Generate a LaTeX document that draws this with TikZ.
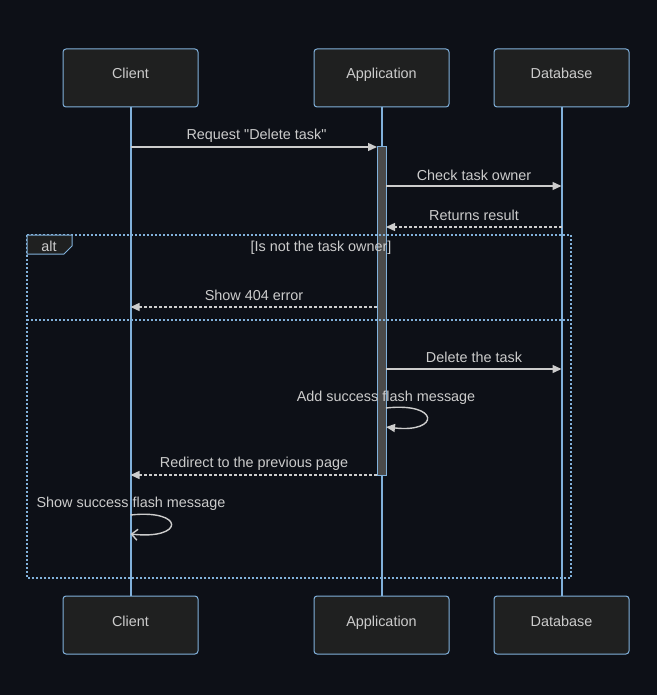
\documentclass[tikz,border=0pt]{standalone}
\usepackage{fontspec}
\setmainfont{Liberation Sans}
\usetikzlibrary{arrows.meta}
\definecolor{bg}{HTML}{0D1017}
\definecolor{boxfill}{HTML}{1F2020}
\definecolor{edge}{HTML}{81B1DB}
\definecolor{txt}{HTML}{CCCCCC}
\definecolor{actfill}{HTML}{4A4A4A}

\begin{document}
\begin{tikzpicture}[x=1pt,y=-1pt,
  actor/.style={draw=edge,fill=boxfill,rounded corners=3pt,minimum width=135pt,minimum height=58pt,text=txt,font=\fontsize{14.4}{16}\selectfont,text height=10pt,text depth=8pt,line width=1pt},
  life/.style={draw=edge,line width=2pt},
  msg/.style={draw=txt,line width=1.4pt,-{Triangle[length=9pt,width=8pt]}},
  reply/.style={msg,dash pattern=on 3pt off 2pt},
  lbl/.style={text=txt,font=\fontsize{14.4}{16}\selectfont,inner sep=1pt},
  frame/.style={draw=edge,line width=1.5pt,dash pattern=on 2pt off 2pt}]
\fill[bg] (0,0) rectangle (657,695);
\useasboundingbox (0,0) rectangle (657,695);

% actors
\node[actor] (cT) at (130.5,78) {Client};
\node[actor] (aT) at (381.5,78) {Application};
\node[actor] (dT) at (561.5,78) {Database};
\node[actor] (cB) at (130.5,625) {Client};
\node[actor] (aB) at (381.5,625) {Application};
\node[actor] (dB) at (561.5,625) {Database};

% lifelines
\draw[life] (cT.south) -- (cB.north);
\draw[life] (aT.south) -- (aB.north);
\draw[life] (dT.south) -- (dB.north);

% activation
\node[draw=edge,fill=actfill,minimum width=9pt,minimum height=328pt,inner sep=0pt,line width=1pt] (act) at (381.5,311) {};

% alt frame
\draw[frame] (27,235) rectangle (571,578);
\draw[frame] (27,320) -- (571,320);
\filldraw[draw=edge,fill=boxfill,line width=1pt] (27,235) -- (72,235) -- (72,246) -- (64,254) -- (27,254) -- cycle;
\node[lbl] (alt) at (49,246.5) {alt};
\node[lbl] (cond) at (321,247.5) {[Is not the task owner]};

% anchor points on lifelines
\coordinate (c1) at (130.5,147);
\coordinate (a1) at (377,147);
\coordinate (a2) at (386,186);
\coordinate (d2) at (561.5,186);
\coordinate (d3) at (561.5,227);
\coordinate (a3) at (386,227);
\coordinate (a4) at (377,307);
\coordinate (c4) at (130.5,307);
\coordinate (a5) at (386,369);
\coordinate (d5) at (561.5,369);
\coordinate (a6) at (386,408);
\coordinate (a6e) at (386,427);
\coordinate (a7) at (377,475);
\coordinate (c7) at (130.5,475);
\coordinate (c8) at (130.5,515);
\coordinate (c8e) at (130.5,534);

% messages
\draw[msg] (c1) -- (a1);
\node[lbl] (m1) at (256.5,136) {Request \textquotedbl Delete task\textquotedbl};
\draw[msg] (a2) -- (d2);
\node[lbl] (m2) at (474,175.5) {Check task owner};
\draw[reply] (d3) -- (a3);
\node[lbl] (m3) at (474,215.5) {Returns result};
\draw[reply] (a4) -- (c4);
\node[lbl] (m4) at (254,295.5) {Show 404 error};
\draw[msg] (a5) -- (d5);
\node[lbl] (m5) at (474,357.5) {Delete the task};
\draw[msg] (a6) .. controls (440,402) and (440,433) .. (a6e);
\node[lbl] (m6) at (386,397.5) {Add success flash message};
\draw[reply] (a7) -- (c7);
\node[lbl] (m7) at (254,463.5) {Redirect to the previous page};
\draw[draw=txt,line width=1.4pt,-{Straight Barb[length=6pt,width=11pt]}] (c8) .. controls (185,509) and (185,540) .. (c8e);
\node[lbl] (m8) at (131,503.5) {Show success flash message};

\end{tikzpicture}
\end{document}
